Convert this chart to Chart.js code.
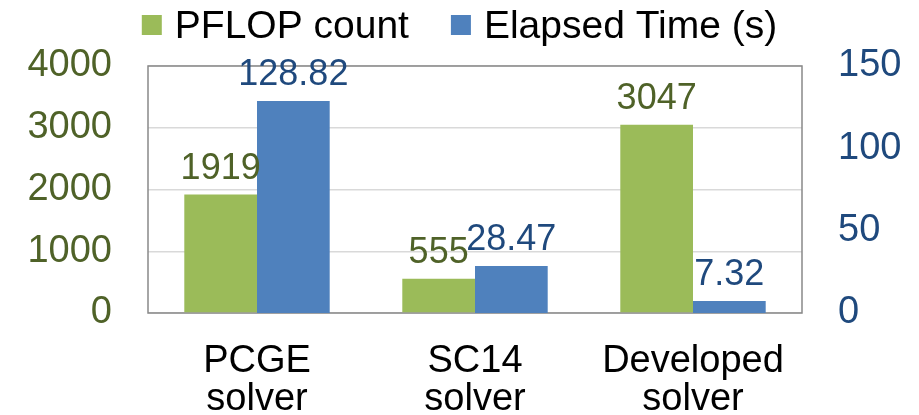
<!DOCTYPE html>
<html>
<head>
<meta charset="utf-8">
<title>PFLOP count vs Elapsed Time</title>
<script src="https://cdn.jsdelivr.net/npm/chart.js@4.4.0/dist/chart.umd.min.js"></script>
<style>
  html, body { margin: 0; padding: 0; background: #fff; }
  #wrap { width: 919px; height: 415px; }
</style>
</head>
<body>
<div id="wrap"><canvas id="barChart" width="919" height="415"></canvas></div>
<script>
// Data
const categories = [["PCGE", "solver"], ["SC14", "solver"], ["Developed", "solver"]];
const seriesNames = ["PFLOP count", "Elapsed Time (s)"];
const pflopCount = [1919, 555, 3047];
const elapsedTime = [128.82, 28.47, 7.32];
const leftTicks = [0, 1000, 2000, 3000, 4000];
const rightTicks = [0, 50, 100, 150];

const FONT = '"Liberation Sans", Arial, sans-serif';
const GREEN = "#9BBB59";
const BLUE = "#4F81BD";
const GREEN_TEXT = "#4F6228";
const BLUE_TEXT = "#1F497D";

// box around the plot area
const plotBox = {
  id: "plotBox",
  beforeDatasetsDraw(chart) {
    const { ctx, chartArea: a } = chart;
    ctx.save();
    ctx.strokeStyle = "#898989";
    ctx.lineWidth = 1.5;
    ctx.strokeRect(a.left, a.top, a.right - a.left, a.bottom - a.top);
    ctx.restore();
  },
};

// value labels above bars
const valueLabels = {
  id: "valueLabels",
  afterDatasetsDraw(chart) {
    const { ctx } = chart;
    ctx.save();
    ctx.font = "36px " + FONT;
    ctx.textAlign = "center";
    ctx.textBaseline = "alphabetic";
    chart.data.datasets.forEach((ds, i) => {
      const meta = chart.getDatasetMeta(i);
      ctx.fillStyle = i === 0 ? GREEN_TEXT : BLUE_TEXT;
      meta.data.forEach((bar, j) => {
        const v = ds.data[j];
        const txt = i === 0 ? String(v) : v.toFixed(2);
        ctx.fillText(txt, bar.x, bar.y - 16);
      });
    });
    ctx.restore();
  },
};

// legend on top, centered on the canvas
const topLegend = {
  id: "topLegend",
  afterDraw(chart) {
    const { ctx, width } = chart;
    const box = 20, gap = 13, spacing = 42, cy = 25;
    ctx.save();
    ctx.font = "39px " + FONT;
    ctx.textBaseline = "middle";
    const items = chart.data.datasets.map((ds) => ({
      text: ds.label,
      color: ds.backgroundColor,
      w: box + gap + ctx.measureText(ds.label).width,
    }));
    const total = items.reduce((s, it) => s + it.w, 0) + spacing * (items.length - 1);
    let x = (width - total) / 2;
    items.forEach((it) => {
      ctx.fillStyle = it.color;
      ctx.fillRect(x, cy - box / 2, box, box);
      ctx.fillStyle = "#000";
      ctx.fillText(it.text, x + box + gap, cy + 2);
      x += it.w + spacing;
    });
    ctx.restore();
  },
};

const plainTick = (value) => String(value);

const ctx = document.getElementById("barChart");
new Chart(ctx, {
  type: "bar",
  data: {
    labels: categories,
    datasets: [
      {
        label: seriesNames[0],
        data: pflopCount,
        backgroundColor: GREEN,
        yAxisID: "y",
      },
      {
        label: seriesNames[1],
        data: elapsedTime,
        backgroundColor: BLUE,
        yAxisID: "y1",
      },
    ],
  },
  options: {
    responsive: false,
    animation: false,
    devicePixelRatio: 1,
    layout: { padding: { top: 66, left: 0, right: 0, bottom: 0 } },
    datasets: {
      bar: { categoryPercentage: 0.667, barPercentage: 1 },
    },
    plugins: {
      legend: { display: false },
      tooltip: { enabled: false },
    },
    scales: {
      x: {
        grid: { display: false },
        border: { display: false },
        ticks: {
          color: "#000",
          padding: 22,
          font: { family: FONT, size: 38, lineHeight: 1.0 },
          maxRotation: 0,
          minRotation: 0,
        },
        afterFit(scale) {
          scale.height = 102;
        },
      },
      y: {
        position: "left",
        min: leftTicks[0],
        max: leftTicks[leftTicks.length - 1],
        ticks: {
          stepSize: leftTicks[1] - leftTicks[0],
          color: GREEN_TEXT,
          padding: 36,
          font: { family: FONT, size: 38 },
          callback: plainTick,
        },
        grid: { color: "#D9D9D9", lineWidth: 1.5, drawTicks: false },
        border: { display: false },
        afterFit(scale) {
          scale.width = 148;
        },
      },
      y1: {
        position: "right",
        min: rightTicks[0],
        max: rightTicks[rightTicks.length - 1],
        ticks: {
          stepSize: rightTicks[1] - rightTicks[0],
          color: BLUE_TEXT,
          padding: 36,
          font: { family: FONT, size: 38 },
          callback: plainTick,
        },
        grid: { display: false, drawTicks: false },
        border: { display: false },
        afterFit(scale) {
          scale.width = 117;
        },
      },
    },
  },
  plugins: [plotBox, valueLabels, topLegend],
});
</script>
</body>
</html>
